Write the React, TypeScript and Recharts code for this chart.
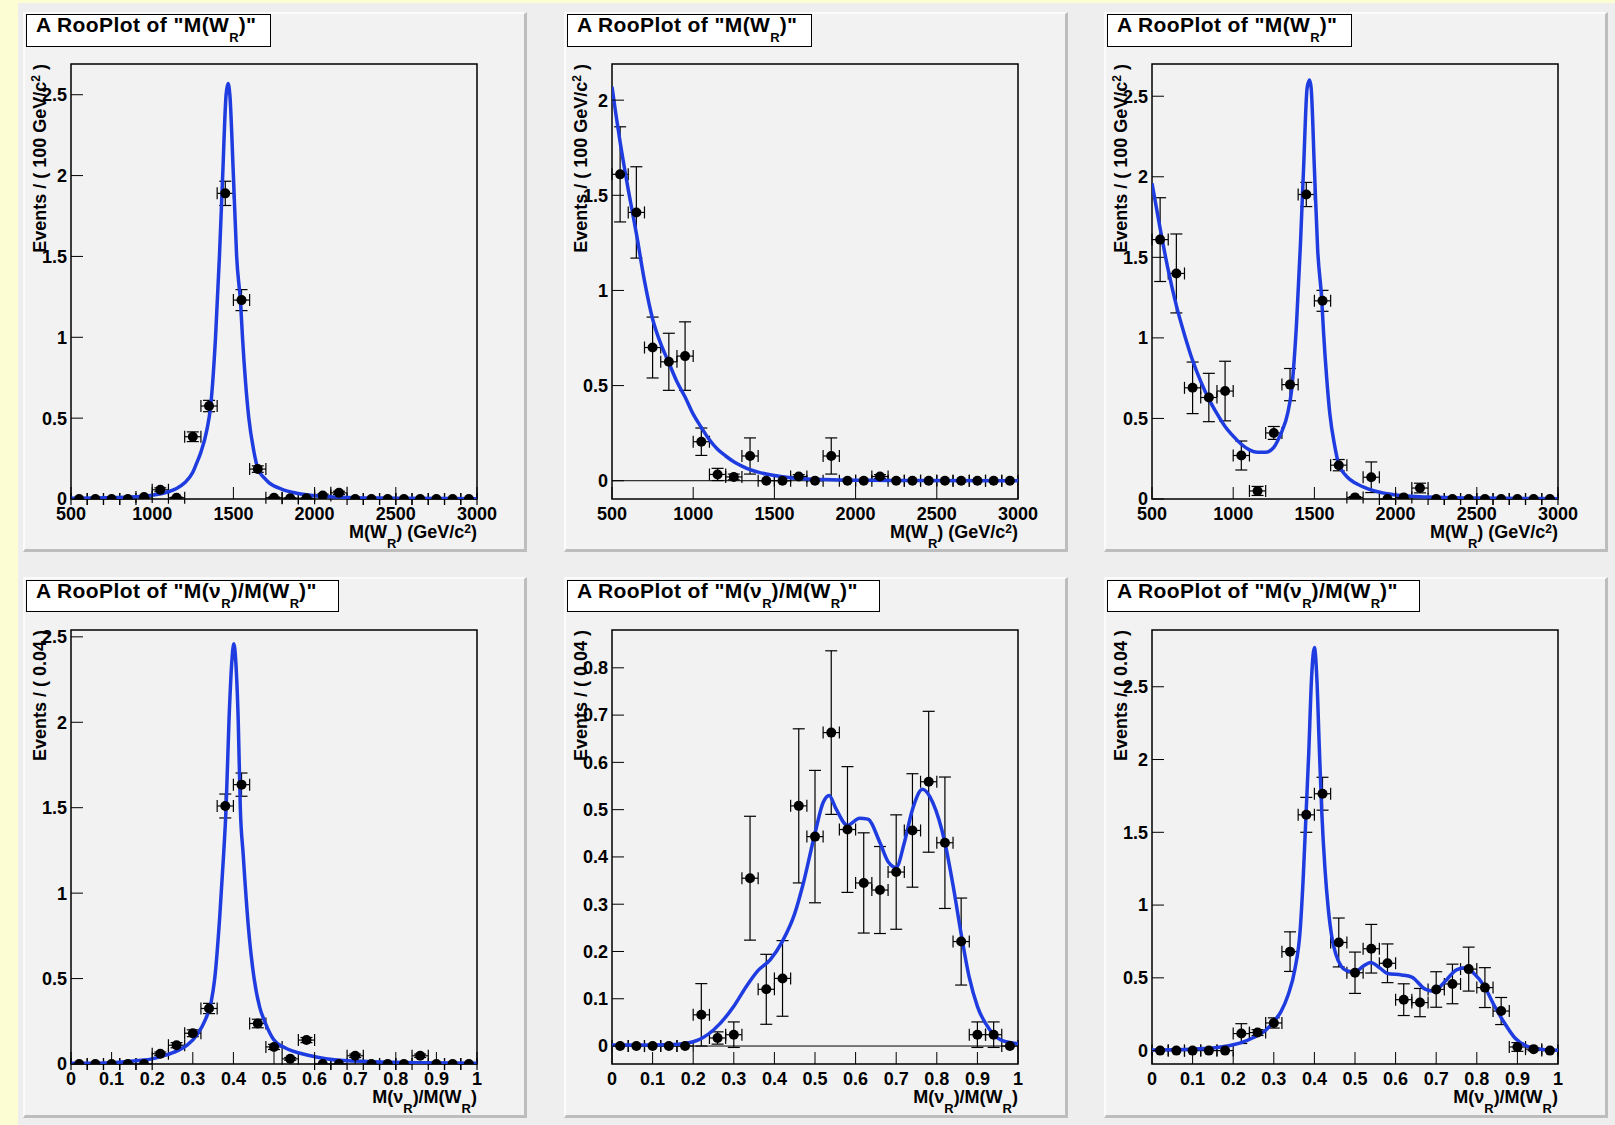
import React from 'react';
import {
  ComposedChart,
  Line,
  Scatter,
  XAxis,
  YAxis,
  ErrorBar,
  ReferenceArea,
  ReferenceLine,
} from 'recharts';

const FONT = '"Liberation Sans", Arial, Helvetica, sans-serif';

// ---- bin centres ----
const wrCentres = [550, 650, 750, 850, 950, 1050, 1150, 1250, 1350, 1450, 1550, 1650, 1750, 1850, 1950, 2050, 2150, 2250, 2350, 2450, 2550, 2650, 2750, 2850, 2950];
const ratioCentres = [0.02, 0.06, 0.1, 0.14, 0.18, 0.22, 0.26, 0.3, 0.34, 0.38, 0.42, 0.46, 0.5, 0.54, 0.58, 0.62, 0.66, 0.7, 0.74, 0.78, 0.82, 0.86, 0.9, 0.94, 0.98];

// ---- axis ticks ----
const wrTicks = [500, 1000, 1500, 2000, 2500, 3000];
const ratioTicks = [0, 0.1, 0.2, 0.3, 0.4, 0.5, 0.6, 0.7, 0.8, 0.9, 1];
const yTicksHalf25 = [0, 0.5, 1, 1.5, 2, 2.5];
const yTicksHalf20 = [0, 0.5, 1, 1.5, 2];
const yTicksTenth = [0, 0.1, 0.2, 0.3, 0.4, 0.5, 0.6, 0.7, 0.8];

// ---- signal M(W_R) ----
const sigWrVals = [0, 0, 0, 0, 0.012, 0.057, 0.008, 0.385, 0.575, 1.89, 1.23, 0.185, 0.008, 0.005, 0.004, 0.022, 0.038, 0, 0, 0, 0, 0, 0, 0, 0];
const sigWrErrs = [0, 0, 0, 0, 0.005, 0.012, 0.004, 0.03, 0.035, 0.075, 0.065, 0.02, 0.004, 0.003, 0.003, 0.008, 0.01, 0, 0, 0, 0, 0, 0, 0, 0];
const sigWrCurve = [[500, 0.004], [700, 0.007], [900, 0.014], [1000, 0.024], [1100, 0.045], [1150, 0.065], [1200, 0.1], [1250, 0.165], [1273, 0.22], [1300, 0.29], [1335, 0.42], [1360, 0.575], [1390, 1.0], [1414, 1.5], [1434, 2.0], [1455, 2.5], [1467, 2.57], [1478, 2.5], [1500, 2.0], [1520, 1.5], [1545, 1.2], [1556, 1.0], [1575, 0.72], [1595, 0.5], [1625, 0.3], [1650, 0.19], [1690, 0.13], [1720, 0.1], [1800, 0.06], [1870, 0.04], [2000, 0.02], [2200, 0.01], [2500, 0.005], [3000, 0.002]];

// ---- background M(W_R) ----
const bkgWrVals = [1.61, 1.41, 0.7, 0.625, 0.655, 0.205, 0.033, 0.02, 0.13, 0, 0, 0.022, 0, 0.13, 0, 0, 0.022, 0, 0, 0, 0, 0, 0, 0, 0];
const bkgWrErrs = [0.25, 0.24, 0.16, 0.15, 0.18, 0.072, 0.032, 0.015, 0.095, 0, 0, 0.01, 0, 0.095, 0, 0, 0.01, 0, 0, 0, 0, 0, 0, 0, 0];
const bkgWrCurve = [[500, 2.07], [525, 1.92], [550, 1.78], [600, 1.53], [650, 1.3], [700, 1.05], [750, 0.85], [800, 0.72], [850, 0.62], [900, 0.52], [950, 0.44], [1000, 0.35], [1050, 0.28], [1100, 0.215], [1150, 0.165], [1200, 0.13], [1250, 0.1], [1300, 0.077], [1350, 0.058], [1400, 0.045], [1450, 0.035], [1500, 0.027], [1550, 0.021], [1600, 0.016], [1650, 0.012], [1700, 0.009], [1800, 0.006], [1900, 0.004], [2000, 0.003], [2250, 0.001], [3000, 0]];

// ---- signal + background M(W_R) ----
const allWrVals = [1.61, 1.4, 0.69, 0.63, 0.67, 0.27, 0.05, 0.41, 0.71, 1.89, 1.23, 0.21, 0.01, 0.135, 0, 0.01, 0.068, 0, 0, 0, 0, 0, 0, 0, 0];
const allWrErrs = [0.26, 0.245, 0.16, 0.15, 0.185, 0.09, 0.028, 0.04, 0.1, 0.075, 0.065, 0.035, 0.005, 0.095, 0, 0.005, 0.03, 0, 0, 0, 0, 0, 0, 0, 0];
const allWrCurve = [[500, 1.96], [550, 1.68], [600, 1.42], [650, 1.2], [700, 1.02], [750, 0.86], [800, 0.73], [850, 0.62], [900, 0.53], [950, 0.45], [1000, 0.39], [1050, 0.34], [1100, 0.305], [1150, 0.29], [1200, 0.29], [1250, 0.32], [1273, 0.36], [1300, 0.42], [1335, 0.53], [1360, 0.68], [1390, 1.09], [1414, 1.58], [1434, 2.07], [1455, 2.55], [1470, 2.6], [1480, 2.55], [1500, 2.05], [1520, 1.55], [1545, 1.24], [1556, 1.04], [1575, 0.76], [1595, 0.53], [1625, 0.33], [1650, 0.215], [1690, 0.15], [1720, 0.12], [1800, 0.075], [1870, 0.05], [2000, 0.025], [2200, 0.012], [2500, 0.006], [3000, 0.002]];

// ---- signal M(nu_R)/M(W_R) ----
const sigRatioVals = [0, 0, 0, 0, 0, 0.06, 0.11, 0.18, 0.325, 1.51, 1.635, 0.237, 0.1, 0.03, 0.14, 0, 0, 0.048, 0, 0, 0, 0.048, 0, 0, 0];
const sigRatioErrs = [0, 0, 0, 0, 0, 0.01, 0.015, 0.02, 0.03, 0.07, 0.068, 0.025, 0.015, 0.008, 0.015, 0, 0, 0.01, 0, 0, 0, 0.01, 0, 0, 0];
const sigRatioCurve = [[0, 0.004], [0.1, 0.008], [0.163, 0.02], [0.2, 0.03], [0.231, 0.05], [0.26, 0.075], [0.286, 0.11], [0.31, 0.17], [0.331, 0.26], [0.345, 0.36], [0.354, 0.5], [0.366, 0.85], [0.376, 1.23], [0.382, 1.5], [0.389, 2.0], [0.396, 2.35], [0.401, 2.46], [0.406, 2.35], [0.412, 2.0], [0.417, 1.5], [0.424, 1.23], [0.437, 0.8], [0.451, 0.5], [0.465, 0.33], [0.477, 0.25], [0.5, 0.14], [0.527, 0.095], [0.587, 0.05], [0.671, 0.02], [0.8, 0.01], [1, 0.005]];

// ---- background M(nu_R)/M(W_R) ----
const bkgRatioVals = [0, 0, 0, 0, 0, 0.066, 0.017, 0.024, 0.355, 0.12, 0.143, 0.508, 0.443, 0.663, 0.458, 0.345, 0.33, 0.368, 0.456, 0.559, 0.43, 0.221, 0.024, 0.024, 0];
const bkgRatioErrs = [0, 0, 0, 0, 0, 0.066, 0.013, 0.027, 0.131, 0.074, 0.08, 0.163, 0.14, 0.173, 0.133, 0.106, 0.092, 0.121, 0.12, 0.149, 0.139, 0.092, 0.027, 0.027, 0];
const bkgRatioCurve = [[0, 0.002], [0.1, 0.002], [0.15, 0.003], [0.2, 0.009], [0.25, 0.034], [0.3, 0.084], [0.33, 0.125], [0.36, 0.16], [0.39, 0.183], [0.42, 0.222], [0.45, 0.28], [0.47, 0.34], [0.5, 0.45], [0.52, 0.515], [0.535, 0.53], [0.55, 0.505], [0.58, 0.467], [0.61, 0.482], [0.63, 0.48], [0.66, 0.43], [0.68, 0.39], [0.7, 0.378], [0.72, 0.43], [0.74, 0.5], [0.765, 0.543], [0.79, 0.515], [0.82, 0.43], [0.84, 0.34], [0.86, 0.237], [0.88, 0.145], [0.9, 0.084], [0.93, 0.035], [0.96, 0.012], [1, 0.005]];

// ---- signal + background M(nu_R)/M(W_R) ----
const allRatioVals = [0, 0, 0, 0, 0, 0.117, 0.124, 0.19, 0.68, 1.62, 1.765, 0.743, 0.535, 0.7, 0.6, 0.35, 0.33, 0.42, 0.458, 0.56, 0.433, 0.272, 0.025, 0.01, 0];
const allRatioErrs = [0, 0, 0, 0, 0, 0.068, 0.02, 0.035, 0.136, 0.12, 0.113, 0.168, 0.142, 0.167, 0.133, 0.109, 0.097, 0.122, 0.136, 0.151, 0.137, 0.093, 0.03, 0.01, 0];
const allRatioCurve = [[0, 0.005], [0.1, 0.01], [0.15, 0.018], [0.2, 0.04], [0.22, 0.055], [0.25, 0.09], [0.28, 0.14], [0.3, 0.2], [0.318, 0.27], [0.335, 0.38], [0.352, 0.56], [0.365, 0.83], [0.373, 1.22], [0.379, 1.6], [0.386, 2.04], [0.393, 2.56], [0.4, 2.77], [0.406, 2.56], [0.412, 2.09], [0.418, 1.65], [0.426, 1.25], [0.434, 0.98], [0.443, 0.78], [0.453, 0.66], [0.466, 0.58], [0.479, 0.55], [0.5, 0.54], [0.52, 0.58], [0.539, 0.606], [0.56, 0.57], [0.58, 0.53], [0.615, 0.52], [0.64, 0.505], [0.674, 0.42], [0.695, 0.408], [0.72, 0.47], [0.75, 0.555], [0.771, 0.57], [0.793, 0.53], [0.818, 0.445], [0.843, 0.31], [0.869, 0.186], [0.894, 0.087], [0.928, 0.025], [0.962, 0.008], [1, 0.003]];

// ---- helpers ----
type Pt = { x: number; y: number; ex: number; ey: number };

function makePoints(xs: number[], ys: number[], errs: number[], half: number): Pt[] {
  return xs.map((x, i) => ({ x, y: ys[i], ex: half, ey: errs[i] }));
}

function makeCurve(pairs: number[][]) {
  return pairs.map(([x, y]) => ({ x, y }));
}

// secondary tick positions between the labelled ones
function minorTicks(lo: number, hi: number, step: number, majors: number[]) {
  const out: number[] = [];
  const n = Math.round((hi - lo) / step);
  for (let i = 0; i <= n; i++) {
    const v = +(lo + i * step).toFixed(6);
    if (!majors.some((m) => Math.abs(m - v) < 1e-9)) out.push(v);
  }
  return out;
}

const Dot = (p: any) => <circle cx={p.cx} cy={p.cy} r={5} fill="#000" />;

const Sub = ({ children, size, drop }: any) => (
  <span style={{ fontSize: size, position: 'relative', top: drop, letterSpacing: 0 }}>{children}</span>
);

const tickStyle = { fontSize: 18, fontWeight: 700, fill: '#000', fontFamily: FONT };

const PANEL_W = 504;
const FRAME_LEFT = 48;
const FRAME_W = 406;

type PanelProps = {
  left: number;
  top: number;
  height: number;
  frameTop: number;
  frameH: number;
  titleTop: number;
  titleW: number;
  titleH: number;
  title: React.ReactNode;
  yLabel: React.ReactNode;
  xLabel: React.ReactNode;
  xDomain: [number, number];
  xTicks: number[];
  xMinor: number[];
  yDomain: [number, number];
  yTicks: number[];
  yMinor: number[];
  points: Pt[];
  curve: { x: number; y: number }[];
  zeroLine?: boolean;
};

function Panel(p: PanelProps) {
  // each axis takes 1px; two stacked axes on the left and on the bottom
  const margin = {
    top: p.frameTop,
    left: FRAME_LEFT - 2,
    right: PANEL_W - FRAME_LEFT - FRAME_W,
    bottom: p.height - p.frameTop - p.frameH - 2,
  };
  return (
    <div style={{ position: 'absolute', left: p.left, top: p.top, width: PANEL_W, height: p.height, background: '#f2f2f2' }}>
      <div
        style={{
          position: 'absolute',
          inset: 0,
          boxSizing: 'border-box',
          borderTop: '2px solid #fbfbfb',
          borderLeft: '2px solid #fbfbfb',
          borderRight: '3px solid #bdbdbd',
          borderBottom: '3px solid #bdbdbd',
        }}
      />
      <ComposedChart width={PANEL_W} height={p.height} margin={margin} style={{ position: 'absolute', left: 0, top: 0 }}>
        <XAxis
          type="number"
          dataKey="x"
          domain={p.xDomain}
          ticks={p.xTicks}
          interval={0}
          allowDataOverflow
          height={1}
          axisLine={false}
          tickLine={{ stroke: '#000', strokeWidth: 1 }}
          tickSize={-12}
          tickMargin={20}
          tick={tickStyle}
        />
        <XAxis
          xAxisId="minor"
          type="number"
          domain={p.xDomain}
          ticks={p.xMinor}
          interval={0}
          allowDataOverflow
          height={1}
          axisLine={false}
          tickLine={{ stroke: '#000', strokeWidth: 1 }}
          tickSize={-7}
          tick={false}
        />
        <YAxis
          type="number"
          domain={p.yDomain}
          ticks={p.yTicks}
          interval={0}
          allowDataOverflow
          width={1}
          axisLine={false}
          tickLine={{ stroke: '#000', strokeWidth: 1 }}
          tickSize={-12}
          tickMargin={16}
          tick={tickStyle}
        />
        <YAxis
          yAxisId="minor"
          type="number"
          domain={p.yDomain}
          ticks={p.yMinor}
          interval={0}
          allowDataOverflow
          width={1}
          axisLine={false}
          tickLine={{ stroke: '#000', strokeWidth: 1 }}
          tickSize={-7}
          tick={false}
        />
        <ReferenceArea
          x1={p.xDomain[0]}
          x2={p.xDomain[1]}
          y1={p.yDomain[0]}
          y2={p.yDomain[1]}
          fill="#f2f2f2"
          fillOpacity={0}
          stroke="#000"
          strokeWidth={1.5}
          ifOverflow="visible"
        />
        {p.zeroLine && <ReferenceLine y={0} stroke="#000" strokeWidth={1} />}
        <Scatter data={p.points} dataKey="y" shape={Dot} isAnimationActive={false}>
          <ErrorBar dataKey="ey" direction="y" width={6} stroke="#000" strokeWidth={1.2} isAnimationActive={false} />
          <ErrorBar dataKey="ex" direction="x" width={6} stroke="#000" strokeWidth={1.2} isAnimationActive={false} />
        </Scatter>
        <Line
          data={p.curve}
          dataKey="y"
          type="monotone"
          stroke="#1e3ce0"
          strokeWidth={3.5}
          dot={false}
          activeDot={false}
          isAnimationActive={false}
        />
      </ComposedChart>
      <div
        style={{
          position: 'absolute',
          left: 3,
          top: p.titleTop,
          width: p.titleW,
          height: p.titleH,
          boxSizing: 'border-box',
          border: '1.5px solid #000',
          background: '#fff',
          font: `bold 21px ${FONT}`,
          letterSpacing: '0.4px',
          lineHeight: '20px',
          paddingLeft: 9,
          whiteSpace: 'nowrap',
        }}
      >
        {p.title}
      </div>
      <div
        style={{
          position: 'absolute',
          left: 8,
          top: p.frameTop + 320,
          width: 320,
          textAlign: 'right',
          transform: 'rotate(-90deg)',
          transformOrigin: '0 0',
          font: `bold 18px ${FONT}`,
          lineHeight: '18px',
          whiteSpace: 'nowrap',
        }}
      >
        {p.yLabel}
      </div>
      <div
        style={{
          position: 'absolute',
          left: FRAME_LEFT + FRAME_W - 400,
          top: 511,
          width: 400,
          textAlign: 'right',
          font: `bold 18px ${FONT}`,
          lineHeight: '18px',
          whiteSpace: 'nowrap',
        }}
      >
        {p.xLabel}
      </div>
    </div>
  );
}

const titleWr = (
  <span>
    A RooPlot of "M(W<Sub size={13} drop={10}>R</Sub>)"
  </span>
);
const titleRatio = (
  <span>
    A RooPlot of "M(ν<Sub size={13} drop={10}>R</Sub>)/M(W<Sub size={13} drop={10}>R</Sub>)"
  </span>
);
const yLabelWr = (
  <span>
    Events / ( 100 GeV/c<Sub size={12} drop={-6}>2</Sub> )
  </span>
);
const yLabelRatio = <span>Events / ( 0.04 )</span>;
const xLabelWr = (
  <span>
    M(W<Sub size={13} drop={10}>R</Sub>) (GeV/c<Sub size={12} drop={-5}>2</Sub>)
  </span>
);
const xLabelRatio = (
  <span>
    M(ν<Sub size={13} drop={10}>R</Sub>)/M(W<Sub size={13} drop={10}>R</Sub>)
  </span>
);

const COLS = [23, 564, 1104];
const ROW1 = { top: 12, height: 540, frameTop: 52, frameH: 435, titleTop: 2, titleH: 33 };
const ROW2 = { top: 577, height: 541, frameTop: 53, frameH: 434, titleTop: 3, titleH: 32 };

export default function App() {
  const wrX: [number, number] = [500, 3000];
  const rX: [number, number] = [0, 1];
  const wrMinor = minorTicks(500, 3000, 100, wrTicks);
  const rMinor = minorTicks(0, 1, 0.02, ratioTicks);

  const panels: PanelProps[] = [
    {
      left: COLS[0], ...ROW1, titleW: 245, title: titleWr, yLabel: yLabelWr, xLabel: xLabelWr,
      xDomain: wrX, xTicks: wrTicks, xMinor: wrMinor,
      yDomain: [0, 2.69], yTicks: yTicksHalf25, yMinor: minorTicks(0, 2.6, 0.1, yTicksHalf25),
      points: makePoints(wrCentres, sigWrVals, sigWrErrs, 50), curve: makeCurve(sigWrCurve),
    },
    {
      left: COLS[1], ...ROW1, titleW: 245, title: titleWr, yLabel: yLabelWr, xLabel: xLabelWr,
      xDomain: wrX, xTicks: wrTicks, xMinor: wrMinor,
      yDomain: [-0.096, 2.19], yTicks: yTicksHalf20, yMinor: minorTicks(0, 2.1, 0.1, yTicksHalf20),
      points: makePoints(wrCentres, bkgWrVals, bkgWrErrs, 50), curve: makeCurve(bkgWrCurve), zeroLine: true,
    },
    {
      left: COLS[2], ...ROW1, titleW: 245, title: titleWr, yLabel: yLabelWr, xLabel: xLabelWr,
      xDomain: wrX, xTicks: wrTicks, xMinor: wrMinor,
      yDomain: [0, 2.7], yTicks: yTicksHalf25, yMinor: minorTicks(0, 2.7, 0.1, yTicksHalf25),
      points: makePoints(wrCentres, allWrVals, allWrErrs, 50), curve: makeCurve(allWrCurve),
    },
    {
      left: COLS[0], ...ROW2, titleW: 313, title: titleRatio, yLabel: yLabelRatio, xLabel: xLabelRatio,
      xDomain: rX, xTicks: ratioTicks, xMinor: rMinor,
      yDomain: [0, 2.54], yTicks: yTicksHalf25, yMinor: minorTicks(0, 2.5, 0.1, yTicksHalf25),
      points: makePoints(ratioCentres, sigRatioVals, sigRatioErrs, 0.02), curve: makeCurve(sigRatioCurve),
    },
    {
      left: COLS[1], ...ROW2, titleW: 313, title: titleRatio, yLabel: yLabelRatio, xLabel: xLabelRatio,
      xDomain: rX, xTicks: ratioTicks, xMinor: rMinor,
      yDomain: [-0.038, 0.88], yTicks: yTicksTenth, yMinor: minorTicks(0, 0.88, 0.02, yTicksTenth),
      points: makePoints(ratioCentres, bkgRatioVals, bkgRatioErrs, 0.02), curve: makeCurve(bkgRatioCurve), zeroLine: true,
    },
    {
      left: COLS[2], ...ROW2, titleW: 313, title: titleRatio, yLabel: yLabelRatio, xLabel: xLabelRatio,
      xDomain: rX, xTicks: ratioTicks, xMinor: rMinor,
      yDomain: [-0.092, 2.89], yTicks: yTicksHalf25, yMinor: minorTicks(0, 2.8, 0.1, yTicksHalf25),
      points: makePoints(ratioCentres, allRatioVals, allRatioErrs, 0.02), curve: makeCurve(allRatioCurve),
    },
  ];

  return (
    <div
      style={{
        position: 'absolute',
        left: 0,
        top: 0,
        width: 1615,
        height: 1125,
        overflow: 'hidden',
        background: '#fdfdd3',
        fontFamily: FONT,
        color: '#000',
      }}
    >
      <div style={{ position: 'absolute', left: 18, top: 3, right: 0, bottom: 0, background: '#eeeeee' }} />
      {panels.map((p, i) => (
        <Panel key={i} {...p} />
      ))}
    </div>
  );
}
